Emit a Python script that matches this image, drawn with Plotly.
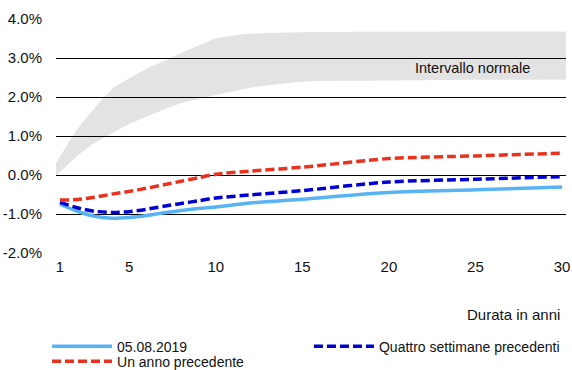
import plotly.graph_objects as go

# Band ("Intervallo normale")
band_x = [0.77, 2, 3, 4, 5, 6, 7, 8, 9, 10, 12, 15, 20, 25, 30.23]
band_upper = [0.30, 1.17, 1.72, 2.20, 2.48, 2.72, 2.92, 3.13, 3.32, 3.50, 3.62, 3.66, 3.67, 3.68, 3.68]
band_lower = [-0.02, 0.49, 0.82, 1.07, 1.30, 1.50, 1.68, 1.84, 1.95, 2.05, 2.24, 2.39, 2.42, 2.44, 2.45]

# Yield curves
maturities = [1, 2, 3, 4, 5, 6, 7, 8, 9, 10, 12, 15, 20, 25, 30]
curve_today = [-0.75, -0.93, -1.06, -1.11, -1.09, -1.04, -0.97, -0.91, -0.86, -0.82, -0.72, -0.62, -0.45, -0.38, -0.31]
curve_4weeks = [-0.70, -0.84, -0.93, -0.96, -0.94, -0.88, -0.80, -0.73, -0.66, -0.59, -0.51, -0.40, -0.18, -0.11, -0.04]
curve_1year = [-0.64, -0.63, -0.57, -0.49, -0.42, -0.34, -0.25, -0.16, -0.07, 0.02, 0.10, 0.20, 0.42, 0.49, 0.56]

x_ticks = [1, 5, 10, 15, 20, 25, 30]
y_ticks = [-2, -1, 0, 1, 2, 3, 4]
y_labels = ["-2.0%", "-1.0%", "0.0%", "1.0%", "2.0%", "3.0%", "4.0%"]

FONT = "Liberation Sans, Arial, sans-serif"
FS = 15

fig = go.Figure()
fig.add_trace(go.Scatter(x=band_x, y=band_lower, mode="lines",
                         line=dict(width=0, shape="spline", smoothing=0.6),
                         showlegend=False, hoverinfo="skip"))
fig.add_trace(go.Scatter(x=band_x, y=band_upper, mode="lines",
                         line=dict(width=0, shape="spline", smoothing=0.6),
                         fill="tonexty", fillcolor="rgba(0,0,0,0.11)",
                         showlegend=False, hoverinfo="skip"))

fig.add_trace(go.Scatter(x=maturities, y=curve_today, mode="lines", name="05.08.2019",
                         line=dict(color="#58B3F5", width=3.5, shape="spline", smoothing=0.8),
                         legend="legend"))
fig.add_trace(go.Scatter(x=maturities, y=curve_4weeks, mode="lines", name="Quattro settimane precedenti",
                         line=dict(color="#0000D2", width=3.5, dash="9px,4px", shape="spline", smoothing=0.8),
                         legend="legend2"))
fig.add_trace(go.Scatter(x=maturities, y=curve_1year, mode="lines", name="Un anno precedente",
                         line=dict(color="#E8321E", width=3.5, dash="9px,4px", shape="spline", smoothing=0.8),
                         legend="legend3"))

leg_common = dict(orientation="h", xanchor="left", yanchor="middle",
                  bgcolor="rgba(0,0,0,0)", borderwidth=0, itemwidth=60,
                  font=dict(family=FONT, size=14, color="#111"))

fig.update_layout(
    width=572, height=370,
    margin=dict(l=56, r=6, t=19, b=117, autoexpand=False),
    paper_bgcolor="white", plot_bgcolor="white",
    font=dict(family=FONT, size=FS, color="#111"),
    xaxis=dict(range=[0.77, 30.23], tickvals=x_ticks, ticktext=[str(v) for v in x_ticks],
               showgrid=False, zeroline=False, showline=False,
               ticks="", ticklabelstandoff=3,
               tickfont=dict(family=FONT, size=FS, color="#111")),
    yaxis=dict(range=[-2, 4], tickvals=y_ticks, ticktext=y_labels,
               showgrid=True, gridcolor="#000", gridwidth=1,
               zeroline=True, zerolinecolor="#000", zerolinewidth=1,
               showline=False, ticks="outside", ticklen=10, tickcolor="rgba(0,0,0,0)",
               tickfont=dict(family=FONT, size=FS, color="#111")),
    legend=dict(x=-0.0176, y=-0.400, **leg_common),
    legend2=dict(x=0.496, y=-0.400, **leg_common),
    legend3=dict(x=-0.0176, y=-0.464, **leg_common),
    annotations=[
        dict(x=21.4, y=2.74, xref="x", yref="y", text="Intervallo normale", showarrow=False,
             xanchor="left", yanchor="middle", font=dict(family=FONT, size=14.5, color="#111")),
        dict(x=30, y=-0.261, xref="x", yref="paper", text="Durata in anni", showarrow=False,
             xanchor="right", yanchor="middle", font=dict(family=FONT, size=FS, color="#111")),
    ],
)

fig.write_html("out.html", config={"displayModeBar": False},
               post_script="document.body.style.margin='0';")
